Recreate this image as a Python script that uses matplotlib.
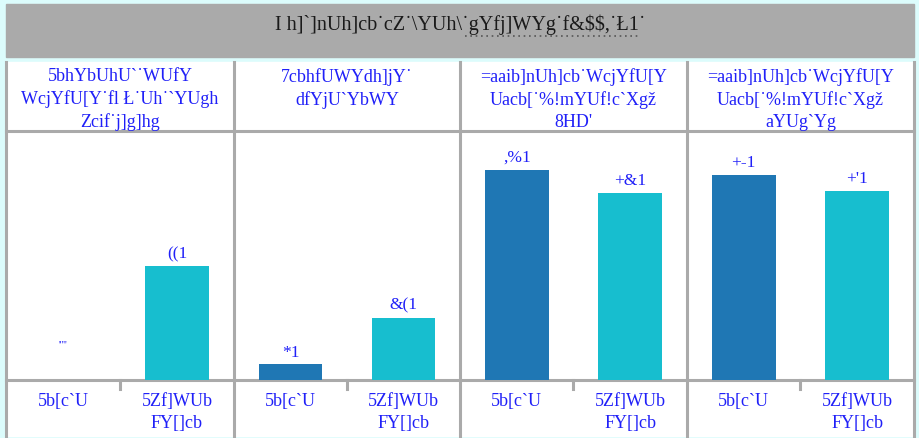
import numpy as np
import matplotlib
matplotlib.use("Agg")
import matplotlib.pyplot as plt
from matplotlib.patches import Rectangle

plt.rcParams["text.parse_math"] = False

# ── data ────────────────────────────────────────────────────────────────────
TITLE = "I h]`]nUh]cb˙cZ˙\\YUh\\˙gYfj]WYg˙f&$$,˙Ł1˙"

PANEL_TITLES = [
    "5bhYbUhU`˙WUfY\nWcjYfU[Y˙fl Ł˙Uh˙`YUgh\nZcif˙j]g]hg",
    "7cbhfUWYdh]jY˙\ndfYjU`YbWY",
    "=aaib]nUh]cb˙WcjYfU[Y\nUacb[˙%!mYUf!c`Xgž\n8HD'",
    "=aaib]nUh]cb˙WcjYfU[Y\nUacb[˙%!mYUf!c`Xgž\naYUg`Yg",
]
CATEGORIES = ["5b[c`U", "5Zf]WUb\nFY[]cb"]
VALUES = [
    [None, 44],
    [6, 24],
    [81, 72],
    [79, 73],
]
MISSING_LABEL = "'''''"
BAR_COLORS = ["#1f77b4", "#17becf"]


def encode(v):
    # labels in the picture use a shifted glyph set: digits -12, "%" -> "1"
    s = f"{v}%"
    return "".join("1" if ch == "%" else chr(ord(ch) - 12) for ch in s)


# ── layout (pixels) ────────────────────────────────────────────────────────
W, H = 920, 439
COL_X = [6, 234, 460, 687, 914]
HEAD_TOP, HEAD_BOT, BASE_Y, TABLE_BOT = 63, 132, 381, 437
GRID = "#aaaaaa"
TXT = "#2020f8"
FONT = "Liberation Serif"

fig = plt.figure(figsize=(W / 100, H / 100), dpi=100)
fig.patch.set_facecolor("#dcfcfc")

canvas = fig.add_axes([0, 0, 1, 1])
canvas.set_xlim(0, W)
canvas.set_ylim(H, 0)
canvas.axis("off")

# title band
canvas.add_patch(Rectangle((6, 5), 908, 53, color="#aaaaaa", zorder=1))
canvas.text(W / 2, 25, TITLE, ha="center", va="center", fontsize=14.5,
            family=FONT, color="#1a1a1a", zorder=3)
canvas.plot([465, 638], [37, 37], color="#555555", linestyle=(0, (1, 2.2)),
            linewidth=1.2, zorder=3)

# table body
canvas.add_patch(Rectangle((COL_X[0], HEAD_TOP), COL_X[-1] - COL_X[0],
                           TABLE_BOT - HEAD_TOP, color="white", zorder=1))
for x in COL_X:
    canvas.plot([x, x], [HEAD_TOP, TABLE_BOT], color=GRID, lw=2.2, zorder=2)
for y in (HEAD_BOT, BASE_Y):
    canvas.plot([COL_X[0], COL_X[-1]], [y, y], color=GRID, lw=2.2, zorder=2)

for i, title in enumerate(PANEL_TITLES):
    x0, x1 = COL_X[i], COL_X[i + 1]
    xm = (x0 + x1) / 2
    canvas.text(xm, 68, title, ha="center", va="top", fontsize=13,
                family=FONT, color=TXT, linespacing=1.38, zorder=3)
    # tick between the two categories
    canvas.plot([xm, xm], [BASE_Y, 390], color=GRID, lw=2.2, zorder=2)
    for j, cat in enumerate(CATEGORIES):
        cx = x0 + (x1 - x0) * (0.25 + 0.5 * j)
        canvas.text(cx, 393, cat, ha="center", va="top", fontsize=13,
                    family=FONT, color=TXT, linespacing=1.38, zorder=3)

# bars
for i, vals in enumerate(VALUES):
    x0, x1 = COL_X[i], COL_X[i + 1]
    ax = fig.add_axes([x0 / W, 1 - BASE_Y / H, (x1 - x0) / W,
                       (BASE_Y - HEAD_BOT) / H])
    ax.patch.set_alpha(0)
    ax.set_xlim(-0.5, 1.5)
    ax.set_ylim(0, 96)
    ax.axis("off")
    for j, v in enumerate(vals):
        if v is None:
            ax.text(j, 12, MISSING_LABEL, ha="center", va="bottom",
                    fontsize=7, color=TXT, family=FONT)
            continue
        ax.bar(j, v, width=0.56, color=BAR_COLORS[j])
        ax.annotate(encode(v), (j, v), xytext=(0, 3.5), textcoords="offset points",
                    ha="center", va="bottom", fontsize=12.5, color=TXT,
                    family=FONT)

fig.savefig("out.png", dpi=100, facecolor=fig.get_facecolor())
